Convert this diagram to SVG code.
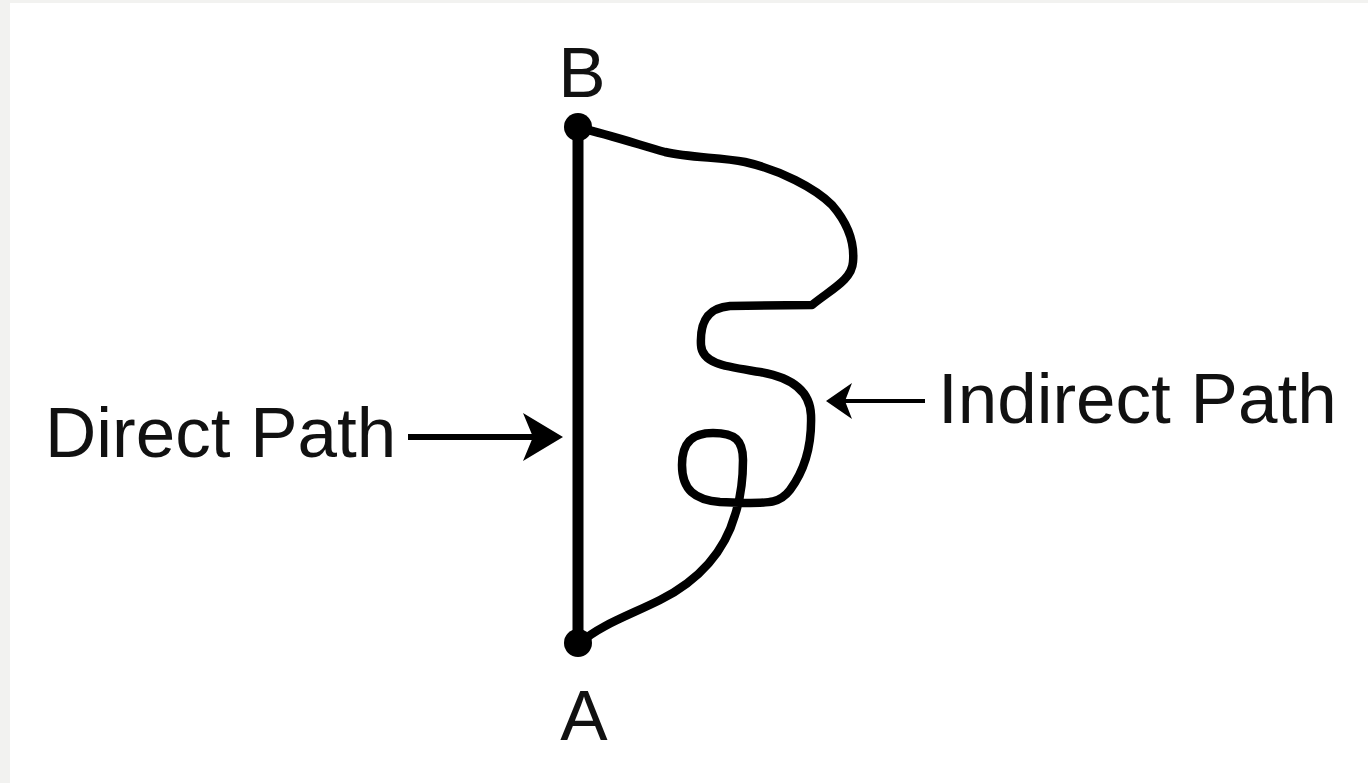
<svg xmlns="http://www.w3.org/2000/svg" width="1368" height="783" viewBox="0 0 1368 783">
<style>
.lbl{font-family:"Liberation Sans",Arial,sans-serif;font-size:71px;fill:#111}
.ptr{stroke:#000;fill:none}
</style>
<defs>
<marker id="arrBig" markerUnits="userSpaceOnUse" markerWidth="40" markerHeight="48" viewBox="0 0 40 48" refX="10" refY="24" orient="auto">
<path d="M0,0 L40,24 L0,48 L10,24 Z" fill="#000"/>
</marker>
<marker id="arrSmall" markerUnits="userSpaceOnUse" markerWidth="26" markerHeight="36" viewBox="0 0 26 36" refX="7" refY="18" orient="auto">
<path d="M0,0 L26,18 L0,36 L7,18 Z" fill="#000"/>
</marker>
</defs>
<rect x="0" y="0" width="1368" height="783" fill="#f2f2f0"/>
<rect x="10" y="3" width="1358" height="780" fill="#ffffff"/>
<g id="connectors">
<line id="direct-path" x1="578" y1="127" x2="578" y2="643" stroke="#000" stroke-width="11"/>
<path id="indirect-path" fill="none" stroke="#000" stroke-width="8.5" stroke-linejoin="round" stroke-linecap="round" d="M580 128 C610 135 640 145 665 152 C690 158 720 157 745 162 C780 170 815 188 832 205 C845 220 855 240 853 262 C852 280 830 290 812 305 L730 306 C705 308 700 325 701 345 C702 365 730 367 760 372 C790 377 810 390 811 415 C812 445 805 470 790 490 C780 503 770 503 745 503 L720 502 C695 500 682 490 682 465 C682 440 695 433 713 433 C735 433 743 440 743 460 C743 480 740 500 735 515 C725 550 700 580 660 600 C630 615 600 625 580 643"/>
<line class="ptr" x1="408" y1="437" x2="533" y2="437" stroke-width="6" marker-end="url(#arrBig)"/>
<line class="ptr" x1="925" y1="401" x2="845" y2="401" stroke-width="4" marker-end="url(#arrSmall)"/>
</g>
<g id="node-B">
<circle cx="578" cy="127" r="14" fill="#000"/>
<text class="lbl" x="582" y="97" text-anchor="middle">B</text>
</g>
<g id="node-A">
<circle cx="578" cy="643" r="14" fill="#000"/>
<text class="lbl" x="584" y="740" text-anchor="middle">A</text>
</g>
<g id="label-direct">
<text class="lbl" x="45" y="457">Direct Path</text>
</g>
<g id="label-indirect">
<text class="lbl" x="938" y="423">Indirect Path</text>
</g>
</svg>
